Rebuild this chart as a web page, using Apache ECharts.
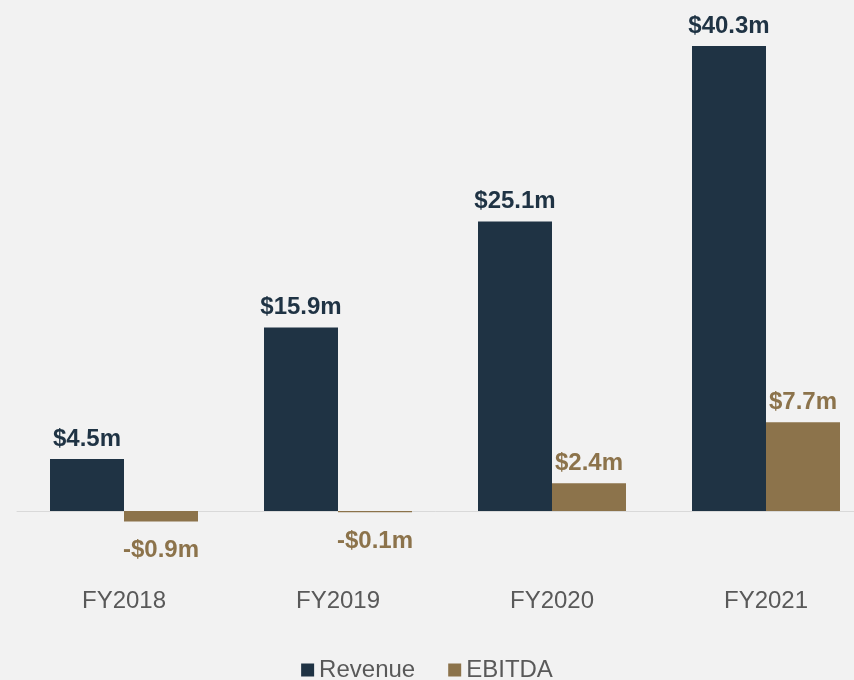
<!DOCTYPE html>
<html>
<head>
<meta charset="utf-8">
<script src="https://cdn.jsdelivr.net/npm/echarts@6/dist/echarts.min.js"></script>
<style>
html,body{margin:0;padding:0;background:#f2f2f2;}
#chart{width:854px;height:680px;}
</style>
</head>
<body>
<div id="chart"></div>
<script>
const categories = ['FY2018', 'FY2019', 'FY2020', 'FY2021'];
const revenue = [4.5, 15.9, 25.1, 40.3];
const ebitda = [-0.9, -0.1, 2.4, 7.7];
const seriesNames = ['Revenue', 'EBITDA'];

const REV_COLOR = '#1f3344';
const EB_COLOR = '#8c734b';
const FONT = '"Liberation Sans", Arial, sans-serif';

function fmt(v) {
  return (v < 0 ? '-$' : '$') + Math.abs(v).toFixed(1) + 'm';
}
function items(arr, color) {
  return arr.map(v => ({
    value: v,
    label: {
      show: true,
      position: v < 0 ? 'bottom' : 'top',
      distance: v < 0 ? 17 : 8,
      color: color,
      fontFamily: FONT,
      fontWeight: 'bold',
      fontSize: 24,
      formatter: p => fmt(p.value)
    }
  }));
}

const chart = echarts.init(document.getElementById('chart'), null, {renderer: 'canvas'});
chart.setOption({
  backgroundColor: '#f2f2f2',
  animation: false,
  grid: {left: 17, width: 856, top: 26.4, bottom: 145.92, containLabel: false, outerBoundsMode: 'none'},
  legend: {
    bottom: -7,
    left: 'center',
    itemWidth: 13,
    itemHeight: 13,
    itemGap: 33,
    icon: 'rect',
    textStyle: {color: '#595959', fontSize: 24, fontFamily: FONT},
    data: seriesNames
  },
  xAxis: {
    type: 'category',
    data: categories,
    axisLine: {show: true, onZero: true, lineStyle: {color: '#d9d9d9', width: 1}},
    axisTick: {show: false},
    axisLabel: {color: '#595959', fontSize: 24, fontFamily: FONT, margin: 55}
  },
  yAxis: {
    type: 'value',
    min: -2,
    max: 42,
    show: false,
    splitLine: {show: false}
  },
  series: [
    {name: seriesNames[0], type: 'bar', barWidth: 74, barGap: '0%', itemStyle: {color: REV_COLOR}, data: items(revenue, REV_COLOR)},
    {name: seriesNames[1], type: 'bar', barWidth: 74, barGap: '0%', itemStyle: {color: EB_COLOR}, data: items(ebitda, EB_COLOR)}
  ]
});
</script>
</body>
</html>
